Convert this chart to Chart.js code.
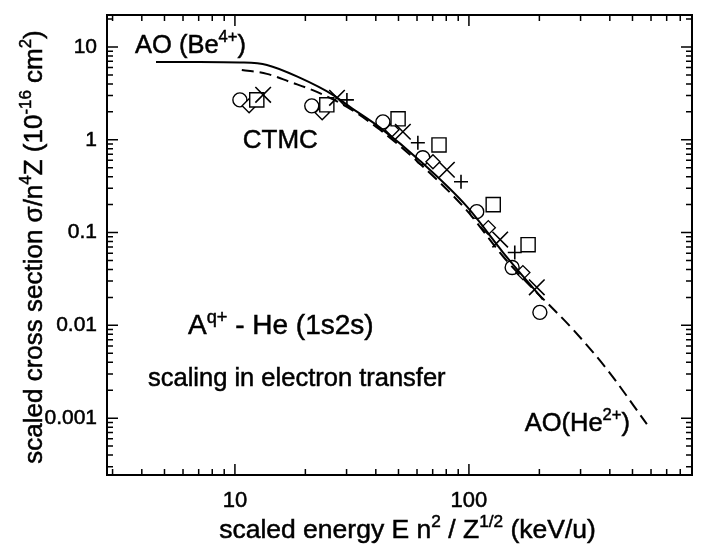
<!DOCTYPE html>
<html><head><meta charset="utf-8">
<script src="https://cdn.jsdelivr.net/npm/chart.js@4.4.1/dist/chart.umd.min.js"></script>
<style>html,body{margin:0;padding:0;background:#fff}#wrap{width:705px;height:549px;position:relative}canvas{display:block}</style>
</head><body><div id="wrap"><canvas id="c" width="705" height="549" style="width:705px;height:549px"></canvas></div>
<script>
// ---- data ----
const xTickLabels = [10, 100];
const yTickLabels = [10, 1, 0.1, 0.01, 0.001];

// AO (Be4+) — solid curve
const aoBeEnergy = [4.6, 7.09, 10.5, 13.7, 19.0, 26.2, 31.0, 41.7, 61.7, 98.1, 140, 207];
const aoBeSigma  = [6.9, 6.9, 6.81, 6.40, 4.64, 3.05, 2.26, 1.35, 0.594, 0.190, 0.0609, 0.0190];
// AO (He2+) — dashed curve
const aoHeEnergy = [10.7, 13.7, 17.2, 22.4, 30.1, 41.7, 61.7, 98.1, 140, 177, 278, 389, 576];
const aoHeSigma  = [5.66, 5.13, 4.20, 3.28, 2.26, 1.28, 0.552, 0.172, 0.0552, 0.029, 0.00906, 0.00336, 0.000862];
// CTMC symbols
const circleEnergy  = [10.5, 21.3, 42.9, 63.5, 108, 153, 201];
const circleSigma   = [2.69, 2.32, 1.56, 0.64, 0.168, 0.042, 0.0138];
const diamondEnergy = [11.5, 23.6, 46.9, 70.2, 121, 170];
const diamondSigma  = [2.32, 1.95, 1.28, 0.58, 0.113, 0.037];
const squareEnergy  = [12.4, 24.7, 49.8, 74.5, 127, 179];
const squareSigma   = [2.69, 2.38, 1.68, 0.88, 0.20, 0.074];
const crossEnergy   = [13.2, 27.3, 52.2, 80.5, 136, 195];
const crossSigma    = [3.05, 2.83, 1.22, 0.475, 0.084, 0.0257];
const plusEnergy    = [30.1, 60.5, 92.5, 157];
const plusSigma     = [2.69, 0.93, 0.353, 0.061];

const pts = (xs, ys) => xs.map((x, i) => ({x, y: ys[i]}));
const FONT = "'Liberation Sans', Arial, Helvetica, sans-serif";

// annotation texts (anchored in data coordinates)
const notes = [
  {parts: [['AO (Be'], ['4+', 1], [')']], x: 3.74, y: 8.62, size: 25.5},
  {parts: [['CTMC']], x: 10.8, y: 0.82, size: 26},
  {parts: [['A'], ['q+', 1], [' - He (1s2s)']], x: 6.3, y: 0.0080, size: 28},
  {parts: [['scaling in electron transfer']], x: 4.25, y: 0.00221, size: 25.5},
  {parts: [['AO(He'], ['2+', 1], [')']], x: 173, y: 0.000724, size: 25.5}
];
const xTitle = [['scaled energy E n'], ['2', 1], [' / Z'], ['1/2', 1], [' (keV/u)']];
const yTitle = [['scaled cross section \u03c3/n'], ['4', 1], ['Z (10'], ['-16', 1], [' cm'], ['2', 1], [')']];

function richWidth(ctx, parts, size) {
  let w = 0;
  for (const [t, sup] of parts) { ctx.font = (sup ? size * 0.65 : size) + 'px ' + FONT; w += ctx.measureText(t).width; }
  return w;
}
function drawRich(ctx, parts, x, y, size, align) {
  let cx = align === 'center' ? x - richWidth(ctx, parts, size) / 2 : x;
  ctx.textAlign = 'left';
  ctx.lineWidth = 0.5;
  for (const [t, sup] of parts) {
    ctx.font = (sup ? size * 0.65 : size) + 'px ' + FONT;
    const yy = sup ? y - size * 0.42 : y;
    ctx.fillText(t, cx, yy);
    ctx.strokeText(t, cx, yy);
    cx += ctx.measureText(t).width;
  }
}
function logValues(min, max) {
  const out = [];
  for (let d = Math.floor(Math.log10(min)); d <= Math.ceil(Math.log10(max)); d++)
    for (let m = 1; m <= 9; m++) {
      const v = m * Math.pow(10, d);
      if (v >= min && v <= max) out.push({v, major: m === 1});
    }
  return out;
}

const frame = {
  id: 'frame',
  afterDraw(chart) {
    const {ctx, chartArea: a, scales: {x, y}} = chart;
    ctx.save();
    ctx.strokeStyle = '#000';
    ctx.lineWidth = 1.5;
    ctx.beginPath();
    for (const t of logValues(x.min, x.max)) {
      const p = x.getPixelForValue(t.v), L = t.major ? 11 : 6;
      ctx.moveTo(p, a.bottom); ctx.lineTo(p, a.bottom - L);
      ctx.moveTo(p, a.top); ctx.lineTo(p, a.top + L);
    }
    for (const t of logValues(y.min, y.max)) {
      const p = y.getPixelForValue(t.v), L = t.major ? 11 : 6;
      ctx.moveTo(a.left, p); ctx.lineTo(a.left + L, p);
      ctx.moveTo(a.right, p); ctx.lineTo(a.right - L, p);
    }
    ctx.stroke();
    ctx.lineWidth = 2;
    ctx.strokeRect(a.left, a.top, a.right - a.left, a.bottom - a.top);
    ctx.fillStyle = '#000';
    ctx.textBaseline = 'alphabetic';
    for (const n of notes) drawRich(ctx, n.parts, x.getPixelForValue(n.x), y.getPixelForValue(n.y), n.size, 'left');
    // axis titles
    drawRich(ctx, xTitle, (a.left + a.right) / 2 + 8, 538, 26.5, 'center');
    ctx.translate(42, (a.top + a.bottom) / 2 + 2);
    ctx.rotate(-Math.PI / 2);
    drawRich(ctx, yTitle, 0, 0, 26, 'center');
    ctx.restore();
  }
};

const labelFor = (list) => (v) => {
  const hit = list.find(l => Math.abs(v / l - 1) < 1e-6);
  return hit === undefined ? '' : String(hit);
};

new Chart(document.getElementById('c'), {
  type: 'scatter',
  data: {
    datasets: [
      {label: 'AO (Be4+)', data: pts(aoBeEnergy, aoBeSigma), showLine: true, borderColor: '#000', borderWidth: 2,
       pointRadius: 0, cubicInterpolationMode: 'monotone', order: 1},
      {label: 'AO (He2+)', data: pts(aoHeEnergy, aoHeSigma), showLine: true, borderColor: '#000', borderWidth: 2,
       borderDash: [12, 6], pointRadius: 0, cubicInterpolationMode: 'monotone', order: 2},
      {label: 'plus', data: pts(plusEnergy, plusSigma), pointStyle: 'cross', pointRadius: 7, borderColor: '#000', pointBorderWidth: 1.6, order: 3},
      {label: 'cross', data: pts(crossEnergy, crossSigma), pointStyle: 'crossRot', pointRadius: 11, borderColor: '#000', pointBorderWidth: 1.6, order: 4},
      {label: 'square', data: pts(squareEnergy, squareSigma), pointStyle: 'rect', pointRadius: 10, borderColor: '#000', backgroundColor: '#fff', pointBorderWidth: 1.4, order: 5},
      {label: 'diamond', data: pts(diamondEnergy, diamondSigma), pointStyle: 'rectRot', pointRadius: 7, borderColor: '#000', backgroundColor: '#fff', pointBorderWidth: 1.4, order: 6},
      {label: 'circle', data: pts(circleEnergy, circleSigma), pointStyle: 'circle', pointRadius: 7, borderColor: '#000', backgroundColor: '#fff', pointBorderWidth: 1.4, order: 7}
    ]
  },
  options: {
    responsive: false,
    animation: false,
    devicePixelRatio: 1,
    layout: {padding: {top: 15, right: 13, left: 0, bottom: 0}},
    plugins: {legend: {display: false}, tooltip: {enabled: false}},
    scales: {
      x: {
        type: 'logarithmic', min: 2.84, max: 898,
        grid: {display: false, drawTicks: false}, border: {display: false},
        ticks: {autoSkip: false, maxRotation: 0, padding: 13, color: '#000', textStrokeColor: '#000', textStrokeWidth: 0.5,
                font: {family: FONT, size: 22}, callback: labelFor(xTickLabels)},
        afterFit: (s) => { s.height = 74; s.paddingLeft = 0; s.paddingRight = 0; }
      },
      y: {
        type: 'logarithmic', min: 0.000244, max: 22.1,
        grid: {display: false, drawTicks: false}, border: {display: false},
        ticks: {autoSkip: false, padding: 10, color: '#000', textStrokeColor: '#000', textStrokeWidth: 0.5,
                font: {family: FONT, size: 21}, callback: labelFor(yTickLabels)},
        afterFit: (s) => { s.width = 107; s.paddingTop = 0; s.paddingBottom = 0; }
      }
    }
  },
  plugins: [frame]
});
</script>
</body></html>
